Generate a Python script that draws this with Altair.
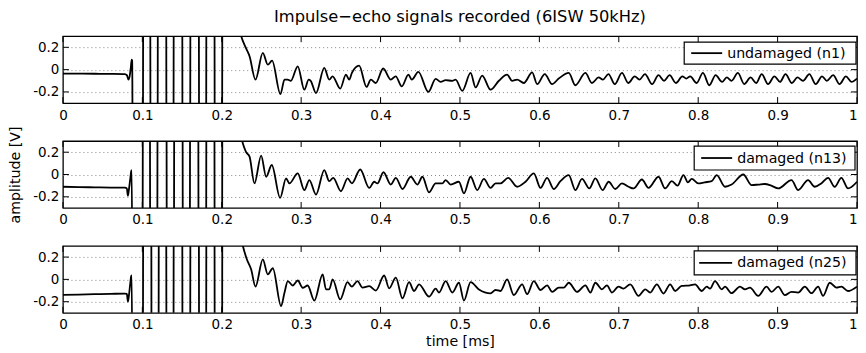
import altair as alt
import pandas as pd

TITLE = "Impulse\u2212echo signals recorded (6ISW 50kHz)"
X_TICKS = [0, 0.1, 0.2, 0.3, 0.4, 0.5, 0.6, 0.7, 0.8, 0.9, 1.0]
Y_TICKS = [-0.2, 0, 0.2]
SAT = 1.5  # saturated (off-scale) level of the excitation burst

# ---------- panel 1 : undamaged (n1) ----------
pre_t_n1 = [0.0, 0.02, 0.04, 0.06, 0.078, 0.0805, 0.0825, 0.0840, 0.0855, 0.0866, 0.0872]
pre_v_n1 = [-0.035, -0.036, -0.037, -0.038, -0.040, -0.05, -0.09, -0.06, 0.02, 0.09, 0.08]
lines_n1 = [0.0879, 0.1009, 0.1101, 0.1194, 0.1302, 0.1394, 0.1504, 0.1604, 0.1713, 0.1805, 0.1910, 0.2006]
post_t_n1 = [0.2245, 0.2307, 0.2350, 0.2425, 0.2517, 0.2580, 0.2634, 0.2739, 0.2790, 0.2830, 0.2870, 0.2957,
             0.3040, 0.3095, 0.3120, 0.3187, 0.3291, 0.3354, 0.3396, 0.3492, 0.3564, 0.3605, 0.3639, 0.3730,
             0.3823, 0.3878, 0.3940, 0.4033, 0.4129, 0.4191, 0.4267, 0.4351, 0.4393, 0.4476, 0.4602, 0.4694,
             0.4757, 0.4820, 0.4903, 0.4945, 0.5029, 0.5134, 0.5197, 0.5280, 0.5385, 0.5490, 0.5594, 0.5657,
             0.5720, 0.5804, 0.5909, 0.5972, 0.6068, 0.6160, 0.6244, 0.6370, 0.6453, 0.6579, 0.6662, 0.6746,
             0.6800, 0.6870, 0.6950, 0.7040, 0.7120, 0.7200, 0.7260, 0.7330, 0.7420, 0.7500, 0.7570, 0.7640,
             0.7720, 0.7800, 0.7850, 0.7900, 0.7980, 0.8060, 0.8140, 0.8220, 0.8300, 0.8360, 0.8420, 0.8500,
             0.8580, 0.8660, 0.8730, 0.8800, 0.8880, 0.8960, 0.9030, 0.9100, 0.9180, 0.9250, 0.9320, 0.9400,
             0.9480, 0.9560, 0.9620, 0.9700, 0.9780, 0.9860, 0.9930, 1.0]
post_v_n1 = [0.30, 0.19, 0.12, -0.09, 0.15, 0.045, 0.08, -0.22, -0.09, -0.09, -0.10, 0.03,
             -0.18, -0.09, -0.10, -0.21, 0.015, -0.09, -0.06, -0.17, -0.045, -0.09, -0.03, 0.035,
             -0.155, -0.09, -0.12, 0.01, -0.09, -0.06, -0.15, -0.045, -0.09, -0.02, -0.20, -0.083,
             -0.11, -0.095, -0.10, -0.09, -0.19, -0.03, -0.16, -0.053, -0.18, -0.10, -0.045, -0.10,
             -0.09, -0.12, -0.025, -0.13, -0.04, -0.13, -0.08, -0.03, -0.14, -0.03, -0.12, -0.07,
             -0.09, -0.04, -0.13, -0.03, -0.12, -0.06, -0.09, -0.04, -0.13, -0.05, -0.10, -0.05,
             -0.12, -0.06, -0.08, -0.06, -0.12, -0.03, -0.14, -0.05, -0.11, -0.07, -0.10, -0.03,
             -0.13, -0.07, -0.12, -0.04, -0.13, -0.06, -0.11, -0.04, -0.12, -0.07, -0.10, -0.04,
             -0.13, -0.06, -0.10, -0.05, -0.13, -0.06, -0.11, -0.08]

# ---------- panel 2 : damaged (n13) ----------
pre_t_n13 = [0.0, 0.02, 0.04, 0.06, 0.078, 0.0805, 0.0818, 0.0830, 0.0846, 0.0860, 0.0866]
pre_v_n13 = [-0.110, -0.113, -0.115, -0.117, -0.118, -0.125, -0.19, -0.14, -0.05, 0.03, 0.04]
lines_n13 = [0.0875, 0.1005, 0.1097, 0.1190, 0.1306, 0.1400, 0.1508, 0.1600, 0.1706, 0.1805, 0.1909, 0.2006]
post_t_n13 = [0.2257, 0.2307, 0.2350, 0.2412, 0.2496, 0.2559, 0.2630, 0.2735, 0.2810, 0.2852, 0.2957, 0.3040,
              0.3103, 0.3187, 0.3291, 0.3354, 0.3404, 0.3501, 0.3585, 0.3639, 0.3744, 0.3857, 0.3920, 0.3960,
              0.4037, 0.4129, 0.4192, 0.4276, 0.4380, 0.4464, 0.4527, 0.4610, 0.4694, 0.4778, 0.4820, 0.4883,
              0.4987, 0.5050, 0.5134, 0.5218, 0.5301, 0.5385, 0.5448, 0.5511, 0.5607, 0.5720, 0.5825, 0.5930,
              0.6014, 0.6097, 0.6181, 0.6265, 0.6370, 0.6453, 0.6537, 0.6629, 0.6705, 0.6797, 0.6872, 0.6956,
              0.7040, 0.7124, 0.7186, 0.7291, 0.7375, 0.7500, 0.7584, 0.7668, 0.7740, 0.7814, 0.7870, 0.7919,
              0.8002, 0.8080, 0.8170, 0.8233, 0.8338, 0.8421, 0.8568, 0.8673, 0.8760, 0.8840, 0.8920, 0.9008,
              0.9175, 0.9259, 0.9384, 0.9468, 0.9550, 0.9636, 0.9719, 0.9803, 0.9887, 1.0]
post_v_n13 = [0.30, 0.20, 0.16, -0.08, 0.17, -0.02, 0.085, -0.21, -0.035, -0.08, 0.01, -0.14,
              -0.05, -0.18, 0.04, -0.06, -0.03, -0.15, -0.035, -0.08, 0.045, -0.12, -0.065, -0.08,
              0.02, -0.09, -0.03, -0.13, -0.02, -0.09, -0.02, -0.16, -0.08, -0.08, -0.05, -0.09,
              -0.065, -0.17, -0.02, -0.14, -0.04, -0.12, -0.08, -0.08, -0.03, -0.11, -0.065, 0.01,
              -0.12, -0.03, -0.13, -0.06, -0.005, -0.14, -0.04, -0.125, -0.035, -0.14, -0.065, -0.13,
              -0.08, -0.11, -0.125, -0.045, -0.12, -0.02, -0.125, -0.06, -0.10, -0.005, -0.07, -0.04,
              -0.08, -0.07, -0.06, -0.005, -0.11, -0.09, 0.0, -0.095, -0.09, -0.085, -0.10, -0.125,
              -0.05, -0.14, -0.05, -0.11, -0.08, -0.03, -0.11, -0.03, -0.125, -0.065]

# ---------- panel 3 : damaged (n25) ----------
pre_t_n25 = [0.0, 0.02, 0.04, 0.06, 0.078, 0.0805, 0.0818, 0.0830, 0.0846, 0.0860, 0.0866]
pre_v_n25 = [-0.139, -0.136, -0.133, -0.130, -0.127, -0.13, -0.20, -0.15, -0.05, 0.03, 0.035]
lines_n25 = [0.0875, 0.1009, 0.1114, 0.1206, 0.1302, 0.1394, 0.1504, 0.1604, 0.1713, 0.1805, 0.1910, 0.2006]
post_t_n25 = [0.2266, 0.2316, 0.2370, 0.2425, 0.2517, 0.2580, 0.2643, 0.2747, 0.2790, 0.2832, 0.2894, 0.2957,
              0.3019, 0.3082, 0.3166, 0.3271, 0.3313, 0.3354, 0.3396, 0.3492, 0.3584, 0.3639, 0.3710, 0.3773,
              0.3857, 0.3941, 0.4045, 0.4108, 0.4192, 0.4276, 0.4359, 0.4422, 0.4485, 0.4611, 0.4694, 0.4736,
              0.4820, 0.4904, 0.4987, 0.5050, 0.5134, 0.5239, 0.5385, 0.5448, 0.5511, 0.5594, 0.5678, 0.5783,
              0.5846, 0.5930, 0.6014, 0.6098, 0.6161, 0.6244, 0.6307, 0.6370, 0.6474, 0.6579, 0.6642, 0.6705,
              0.6788, 0.6851, 0.6914, 0.6997, 0.7060, 0.7144, 0.7249, 0.7333, 0.7396, 0.7479, 0.7563, 0.7647,
              0.7710, 0.7793, 0.7898, 0.7961, 0.8045, 0.8107, 0.8149, 0.8212, 0.8296, 0.8338, 0.8421, 0.8526,
              0.8589, 0.8652, 0.8756, 0.8861, 0.8924, 0.9008, 0.9091, 0.9175, 0.9259, 0.9343, 0.9427, 0.9510,
              0.9573, 0.9657, 0.9741, 0.9803, 0.9887, 1.0]
post_v_n25 = [0.30, 0.18, 0.09, -0.065, 0.18, 0.045, 0.10, -0.24, -0.12, -0.015, -0.055, -0.01,
              -0.075, -0.055, -0.19, 0.045, -0.09, -0.09, 0.0, -0.18, -0.025, -0.065, -0.015, -0.074,
              -0.06, -0.10, 0.035, -0.08, 0.015, -0.17, -0.025, -0.104, -0.044, -0.155, -0.083, -0.118,
              -0.015, -0.118, -0.03, -0.19, -0.025, -0.09, -0.125, -0.095, -0.104, 0.0, -0.14, -0.044,
              -0.133, -0.015, -0.095, -0.053, -0.112, -0.074, -0.074, -0.03, -0.112, -0.053, -0.118, -0.03,
              -0.089, -0.053, -0.118, -0.065, -0.083, -0.044, -0.148, -0.089, -0.118, -0.044, -0.127, -0.044,
              -0.104, -0.059, -0.053, -0.044, -0.104, -0.065, -0.083, -0.015, -0.089, -0.065, -0.124, -0.065,
              -0.089, -0.074, -0.148, -0.065, -0.112, -0.065, -0.142, -0.112, -0.118, -0.065, -0.124, -0.065,
              -0.148, -0.03, -0.074, -0.065, -0.104, -0.065]


def build_signal(pre_t, pre_v, lines, post_t, post_v):
    """Assemble one recorded signal: quiet part, saturated burst, echo tail."""
    t = list(pre_t)
    v = list(pre_v)
    level = pre_v[-1]
    for k, tk in enumerate(lines):
        new_level = -SAT if k % 2 == 0 else SAT
        if k > 0:
            t.append(tk - 0.0004)
            v.append(level)
        t.append(tk + 0.0004)
        v.append(new_level)
        level = new_level
    t += list(post_t)
    v += list(post_v)
    return pd.DataFrame({"t": t, "v": v})


FONT = "DejaVu Sans"
W, H = 795, 67
xscale = alt.Scale(domain=[0, 1], nice=False, zero=False)
yscale = alt.Scale(domain=[-0.3, 0.3], nice=False, zero=False)
LABEL_EXPR = "datum.value < 0 ? '-' + format(-datum.value, '~g') : format(datum.value, '~g')"
X_LABEL_ALIGN = {"condition": {"test": "datum.value >= 1", "value": "right"}, "value": "center"}


def panel(df, name, box, sample, text_x, x_title=None, y_title=None):
    x_axis = alt.Axis(values=X_TICKS, labelExpr=LABEL_EXPR, grid=False, ticks=False, domain=False,
                      labelFlush=False, labelAlign=X_LABEL_ALIGN, labelPadding=5,
                      labelFontSize=13.5, labelFont=FONT, labelColor="black", title=x_title,
                      titleFont=FONT, titleFontSize=14.2, titleFontWeight="normal",
                      titleColor="black", titlePadding=3)
    y_axis = alt.Axis(values=Y_TICKS, labelExpr=LABEL_EXPR, grid=True, gridDash=[1, 3],
                      gridColor="#888888", gridWidth=1, ticks=False, domain=False, labelPadding=4,
                      labelFontSize=13.5, labelFont=FONT, labelColor="black", title=y_title,
                      titleFont=FONT, titleFontSize=14.2, titleFontWeight="normal",
                      titleColor="black", titlePadding=10)
    X = alt.X("t:Q", scale=xscale, axis=x_axis)
    Y = alt.Y("v:Q", scale=yscale, axis=y_axis)
    line = alt.Chart(df).mark_line(color="black", strokeWidth=1.8, clip=True,
                                   interpolate="monotone").encode(x=X, y=Y)
    xt = pd.DataFrame({"t": X_TICKS})
    yt = pd.DataFrame({"v": Y_TICKS})
    tick_top = alt.Chart(xt).mark_rule(color="black", strokeWidth=1).encode(
        x=X, y=alt.value(0), y2=alt.value(6))
    tick_bot = alt.Chart(xt).mark_rule(color="black", strokeWidth=1).encode(
        x=X, y=alt.value(H - 6), y2=alt.value(H))
    tick_l = alt.Chart(yt).mark_rule(color="black", strokeWidth=1).encode(
        y=Y, x=alt.value(0), x2=alt.value(6))
    tick_r = alt.Chart(yt).mark_rule(color="black", strokeWidth=1).encode(
        y=Y, x=alt.value(W - 6), x2=alt.value(W))
    lg = pd.DataFrame({"name": [name]})
    rect = alt.Chart(lg).mark_rect(fill="white", stroke="black", strokeWidth=1.2).encode(
        x=alt.value(box[0]), x2=alt.value(box[1]), y=alt.value(box[2]), y2=alt.value(box[3]))
    cy = (box[2] + box[3]) / 2
    samp = alt.Chart(lg).mark_rule(color="black", strokeWidth=1.8).encode(
        x=alt.value(sample[0]), x2=alt.value(sample[1]), y=alt.value(cy))
    txt = alt.Chart(lg).mark_text(align="left", baseline="middle", font=FONT, fontSize=14.2,
                                  color="black").encode(
        text="name:N", x=alt.value(text_x), y=alt.value(cy + 0.5))
    return alt.layer(line, tick_top, tick_bot, tick_l, tick_r, rect, samp, txt).properties(
        width=W, height=H)


p1 = panel(build_signal(pre_t_n1, pre_v_n1, lines_n1, post_t_n1, post_v_n1),
           "undamaged (n1)", (622, 794, 6, 28), (629, 660), 665)
p2 = panel(build_signal(pre_t_n13, pre_v_n13, lines_n13, post_t_n13, post_v_n13),
           "damaged (n13)", (632, 793, 5, 29), (639, 670), 675, y_title="amplitude [V]")
p3 = panel(build_signal(pre_t_n25, pre_v_n25, lines_n25, post_t_n25, post_v_n25),
           "damaged (n25)", (632, 794, 5, 29), (637, 670), 675, x_title="time [ms]")

chart = alt.vconcat(p1, p2, p3, spacing=38, bounds="flush").properties(
    title=alt.TitleParams(TITLE, font=FONT, fontSize=16.3, fontWeight="normal", color="black",
                          anchor="middle", frame="group", offset=10),
    padding={"left": 0, "top": 0, "right": -1, "bottom": -2},
).configure_view(stroke="black", strokeWidth=1.3)

chart.save("out.html", embed_options={"renderer": "svg", "actions": False})
